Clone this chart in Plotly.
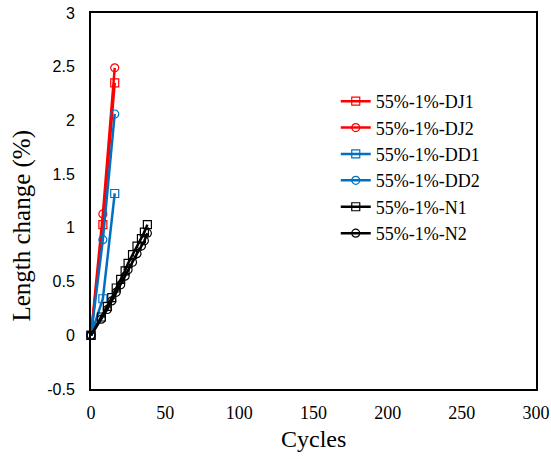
import plotly.graph_objects as go

# Data
dj1_x = [0, 8, 16]
dj1_y = [0, 1.03, 2.35]
dj2_x = [0, 8, 16]
dj2_y = [0, 1.13, 2.49]
dd1_x = [0, 8, 16]
dd1_y = [0, 0.34, 1.32]
dd2_x = [0, 8, 16]
dd2_y = [0, 0.89, 2.06]
n1_x = [0, 7, 11, 14, 17, 20, 23, 25, 28, 31, 34, 36, 38]
n1_y = [0, 0.17, 0.27, 0.35, 0.44, 0.52, 0.60, 0.67, 0.75, 0.83, 0.90, 0.96, 1.03]
n2_x = [0, 7, 11, 14, 17, 20, 23, 25, 28, 31, 34, 36, 38]
n2_y = [0, 0.15, 0.24, 0.32, 0.40, 0.47, 0.55, 0.61, 0.68, 0.76, 0.83, 0.88, 0.95]

names = ["55%-1%-DJ1", "55%-1%-DJ2", "55%-1%-DD1", "55%-1%-DD2", "55%-1%-N1", "55%-1%-N2"]
xs = [dj1_x, dj2_x, dd1_x, dd2_x, n1_x, n2_x]
ys = [dj1_y, dj2_y, dd1_y, dd2_y, n1_y, n2_y]
colors = ["#FF0000", "#FF0000", "#0070C0", "#0070C0", "#000000", "#000000"]
symbols = ["square-open", "circle-open", "square-open", "circle-open", "square-open", "circle-open"]

fig = go.Figure()
for i, (n, x, y, c, s) in enumerate(zip(names, xs, ys, colors, symbols)):
    fig.add_trace(go.Scatter(
        x=x, y=y, name=n, mode="lines+markers", legendgroup=f"g{i}",
        line=dict(color=c, width=2.5),
        marker=dict(symbol=s, size=8, color=c, line=dict(color=c, width=1.2)),
        cliponaxis=False,
    ))

fig.update_layout(
    width=551, height=459,
    margin=dict(l=91, r=15, t=13, b=70, autoexpand=False),
    paper_bgcolor="white", plot_bgcolor="white",
    showlegend=True,
    legend=dict(
        x=0.55, y=0.814, xanchor="left", yanchor="top",
        font=dict(family="Liberation Serif", size=18, color="black"),
        bgcolor="rgba(0,0,0,0)", itemwidth=30, tracegroupgap=0,
    ),
    xaxis=dict(
        range=[0, 300], tickvals=[0, 50, 100, 150, 200, 250, 300],
        showgrid=False, zeroline=False, showline=True, linecolor="black",
        linewidth=2, mirror=True, ticks="", automargin=False,
        ticklabeloverflow="allow", ticklabelstandoff=6,
        tickfont=dict(family="Liberation Serif", size=18, color="black"),
    ),
    yaxis=dict(
        range=[-0.5, 3], tickvals=[-0.5, 0, 0.5, 1, 1.5, 2, 2.5, 3],
        ticktext=["-0.5", "0", "0.5", "1", "1.5", "2", "2.5", "3"],
        showgrid=False, zeroline=False, showline=True, linecolor="black",
        linewidth=2, mirror=True, ticks="", automargin=False,
        ticklabeloverflow="allow", ticklabelstandoff=11,
        tickfont=dict(family="Liberation Sans", size=16, color="black"),
    ),
    annotations=[
        dict(text="Length change (%)", xref="paper", yref="paper",
             x=-0.156, y=0.4335, xanchor="center", yanchor="middle",
             textangle=-90, showarrow=False,
             font=dict(family="Liberation Serif", size=25, color="black")),
        dict(text="Cycles", xref="paper", yref="paper",
             x=0.5, y=-0.134, xanchor="center", yanchor="middle",
             showarrow=False,
             font=dict(family="Liberation Serif", size=24, color="black")),
    ],
)

fig.write_html(
    "out.html",
    config={"displayModeBar": False},
    post_script="document.body.style.margin='0';document.documentElement.style.overflow='hidden';",
)
